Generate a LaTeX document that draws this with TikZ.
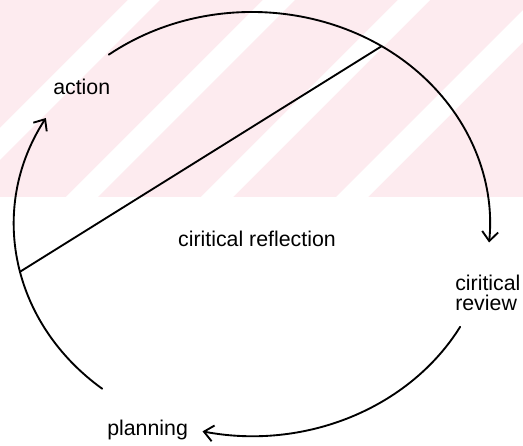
\documentclass[tikz,border=0pt]{standalone}
\usepackage{fontspec}
\setmainfont{Liberation Sans}
\usetikzlibrary{calc,arrows.meta}
\definecolor{wmpink}{RGB}{253,235,239}

\begin{document}
\begin{tikzpicture}[x=0.75pt, y=0.75pt,
        cycleline/.style={line width=1.4pt, line cap=round},
        cyclearrow/.style={cycleline, -{Straight Barb[length=7pt,width=12pt]}},
        lbl/.style={font=\fontsize{16}{15}\selectfont, inner sep=0pt}]
        \useasboundingbox (0,0) rectangle (523,445);

        % faint striped background in the upper part
        \begin{scope}
            \clip (0,248) rectangle (523,445);
            \fill[wmpink] (0,248) rectangle (523,445);
            \foreach \x in {128,263,398,533} {
                \fill[white] (\x,445) -- ++(32,0) -- ++(-200,-200) -- ++(-32,0) -- cycle;
            }
        \end{scope}

        % Parameters
        \def\rx{238}    % horizontal radius of the cycle
        \def\ry{212}    % vertical radius of the cycle

        % Centre of the cycle
        \coordinate (ctr) at (252,221);

        % Ends of the arcs
        \coordinate (actStart) at ($(ctr)+(127:{\rx} and {\ry})$);
        \coordinate (revStart) at ($(ctr)+(-29:{\rx} and {\ry})$);
        \coordinate (plaStart) at ($(ctr)+(231:{\rx} and {\ry})$);

        % Ends of the chord
        \coordinate (chordTop) at ($(ctr)+(57:{\rx} and {\ry})$);
        \coordinate (chordLeft) at ($(ctr)+(193:{\rx} and {\ry})$);

        % Arcs of the cycle
        \draw[cyclearrow] (actStart) arc[start angle=127, end angle=-5, x radius=\rx, y radius=\ry];
        \draw[cyclearrow] (revStart) arc[start angle=-29, end angle=-102, x radius=\rx, y radius=\ry];
        \draw[cyclearrow] (plaStart) arc[start angle=231, end angle=150, x radius=\rx, y radius=\ry];

        % Chord
        \draw[cycleline] (chordTop) -- (chordLeft);

        % Labels
        \node[lbl, anchor=base west] (action) at (53,350) {action};
        \node[lbl, anchor=base] (reflection) at (257,198) {ciritical reflection};
        \node[lbl, anchor=north west, align=left] (review) at (455,170) {ciritical\\review};
        \node[lbl, anchor=base west] (planning) at (107,10) {planning};

\end{tikzpicture}
\end{document}
